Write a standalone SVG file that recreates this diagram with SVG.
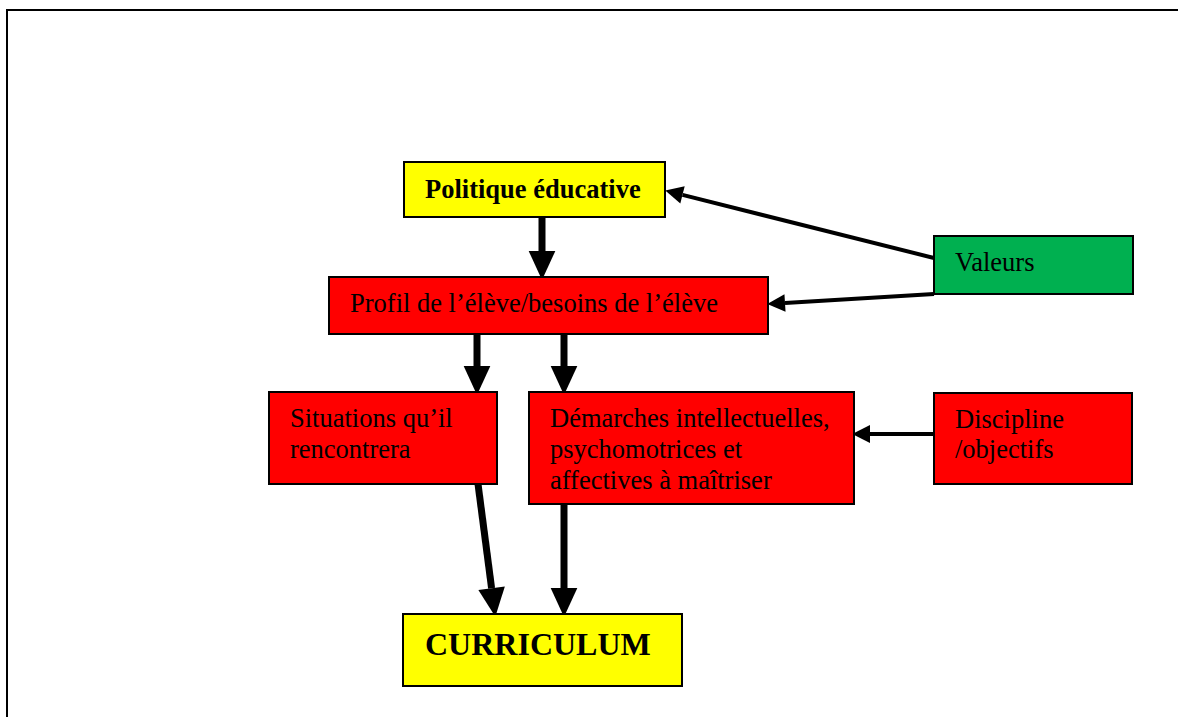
<svg xmlns="http://www.w3.org/2000/svg" width="1178" height="717" viewBox="0 0 1178 717">
<style>
.box{stroke:#000;stroke-width:2}
.y{fill:#FFFF00}.r{fill:#FF0000}.g{fill:#00B050}
text{font-family:"Liberation Serif","Times New Roman",serif;font-size:26.5px;fill:#000}
.b{font-weight:bold}
.thick{stroke:#000;stroke-width:7;fill:none}
.thin{stroke:#000;stroke-width:4;fill:none}
</style>
<defs>
<marker id="big" markerUnits="userSpaceOnUse" markerWidth="30" markerHeight="30" viewBox="0 -13 27 26" refX="0" refY="0" orient="auto" overflow="visible">
<path d="M0,-12 L26,0 L0,12 z" fill="#000"/>
</marker>
<marker id="small" markerUnits="userSpaceOnUse" markerWidth="20" markerHeight="20" viewBox="0 -9 17 18" refX="0" refY="0" orient="auto" overflow="visible">
<path d="M0,-8 L16,0 L0,8 z" fill="#000"/>
</marker>
</defs>
<rect width="1178" height="717" fill="#fff"/>
<path d="M7,717 V10 H1178" fill="none" stroke="#000" stroke-width="2"/>
<g id="connectors">
<line class="thick" x1="542" y1="217" x2="542" y2="251" marker-end="url(#big)"/>
<line class="thick" x1="477" y1="334" x2="477" y2="366" marker-end="url(#big)"/>
<line class="thick" x1="564" y1="334" x2="564" y2="366" marker-end="url(#big)"/>
<line class="thick" x1="478" y1="484" x2="491.6" y2="588.2" marker-end="url(#big)"/>
<line class="thick" x1="564" y1="504" x2="564" y2="588" marker-end="url(#big)"/>
<line class="thin" x1="934" y1="258" x2="682.5" y2="194.9" marker-end="url(#small)"/>
<line class="thin" x1="934" y1="294" x2="785" y2="303" marker-end="url(#small)"/>
<line class="thin" x1="934" y1="434" x2="870" y2="434" marker-end="url(#small)"/>
</g>
<g id="politique"><rect class="box y" x="404" y="162" width="261" height="55"/><text class="b" x="425" y="198">Politique éducative</text></g>
<g id="profil"><rect class="box r" x="329" y="277" width="439" height="57"/><text x="350" y="312">Profil de l’élève/besoins de l’élève</text></g>
<g id="valeurs"><rect class="box g" x="934" y="236" width="199" height="58"/><text x="955" y="271">Valeurs</text></g>
<g id="situations"><rect class="box r" x="269" y="392" width="228" height="92"/><text x="290" y="427">Situations qu’il</text><text x="290" y="458">rencontrera</text></g>
<g id="demarches"><rect class="box r" x="529" y="392" width="325" height="112"/><text x="550" y="427">Démarches intellectuelles,</text><text x="550" y="458">psychomotrices et</text><text x="550" y="489">affectives à maîtriser</text></g>
<g id="discipline"><rect class="box r" x="934" y="393" width="198" height="91"/><text x="955" y="428">Discipline</text><text x="955" y="458">/objectifs</text></g>
<g id="curriculum"><rect class="box y" x="403" y="614" width="279" height="72"/><text class="b" x="425" y="655" style="font-size:32px">CURRICULUM</text></g>
</svg>
